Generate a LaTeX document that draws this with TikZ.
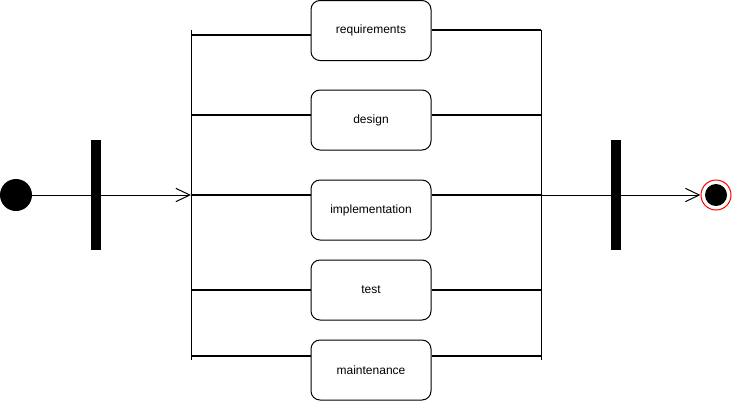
\documentclass[tikz,border=0pt]{standalone}
\usepackage{fontspec}
\setmainfont{Liberation Sans}
\usetikzlibrary{arrows.meta, calc}

\begin{document}
\begin{tikzpicture}[x=0.75pt, y=-0.75pt,
  activity/.style={draw, line width=0.75pt, rounded corners=6.75pt,
    minimum width=90pt, minimum height=45pt, font=\fontsize{9}{11}\selectfont},
  bar/.style={fill=black, inner sep=0pt, minimum width=7.5pt, minimum height=82.5pt},
  initial/.style={circle, fill=black, inner sep=0pt, minimum size=24pt},
  final/.style={circle, draw=red, line width=0.75pt, fill=white, inner sep=0pt,
    minimum size=22.5pt,
    path picture={\fill[black] (path picture bounding box.center) circle (8.25pt);}},
  flow/.style={line width=0.75pt, -{Straight Barb[length=10.5pt, width=10pt]}},
  branch/.style={line width=1.3pt},
  rail/.style={line width=0.75pt}]
  \useasboundingbox (0,0) rectangle (732,401);

  \node[initial] (start) at (16,195) {};
  \node[bar] (fork) at (96,195) {};
  \node[bar] (join) at (616,195) {};
  \node[final] (end) at (716,195) {};

  \node[activity] (req) at (371,30.5) {requirements};
  \node[activity] (des) at (371,120) {design};
  \node[activity] (imp) at (371,210) {implementation};
  \node[activity] (tst) at (371,290) {test};
  \node[activity] (mnt) at (371,370) {maintenance};

  \coordinate (lt) at (191,30);
  \coordinate (lb) at (191,360);
  \coordinate (rt) at (541,30);
  \coordinate (rb) at (541,360);
  \draw[rail] (lt) -- (lb);
  \draw[rail] (rt) -- (rb);

  % branches into and out of each activity
  \foreach \n/\yl/\yr in {req/35/30, des/115/115, imp/195/195, tst/290/290, mnt/356/356}{
    \draw[branch] (lt |- 0,\yl) -- (\n.west |- 0,\yl);
    \draw[branch] (\n.east |- 0,\yr) -- (rt |- 0,\yr);
  }

  \draw[flow] (start) -- (lt |- start);
  \draw[flow] (rt |- join) -- (end);
\end{tikzpicture}
\end{document}
